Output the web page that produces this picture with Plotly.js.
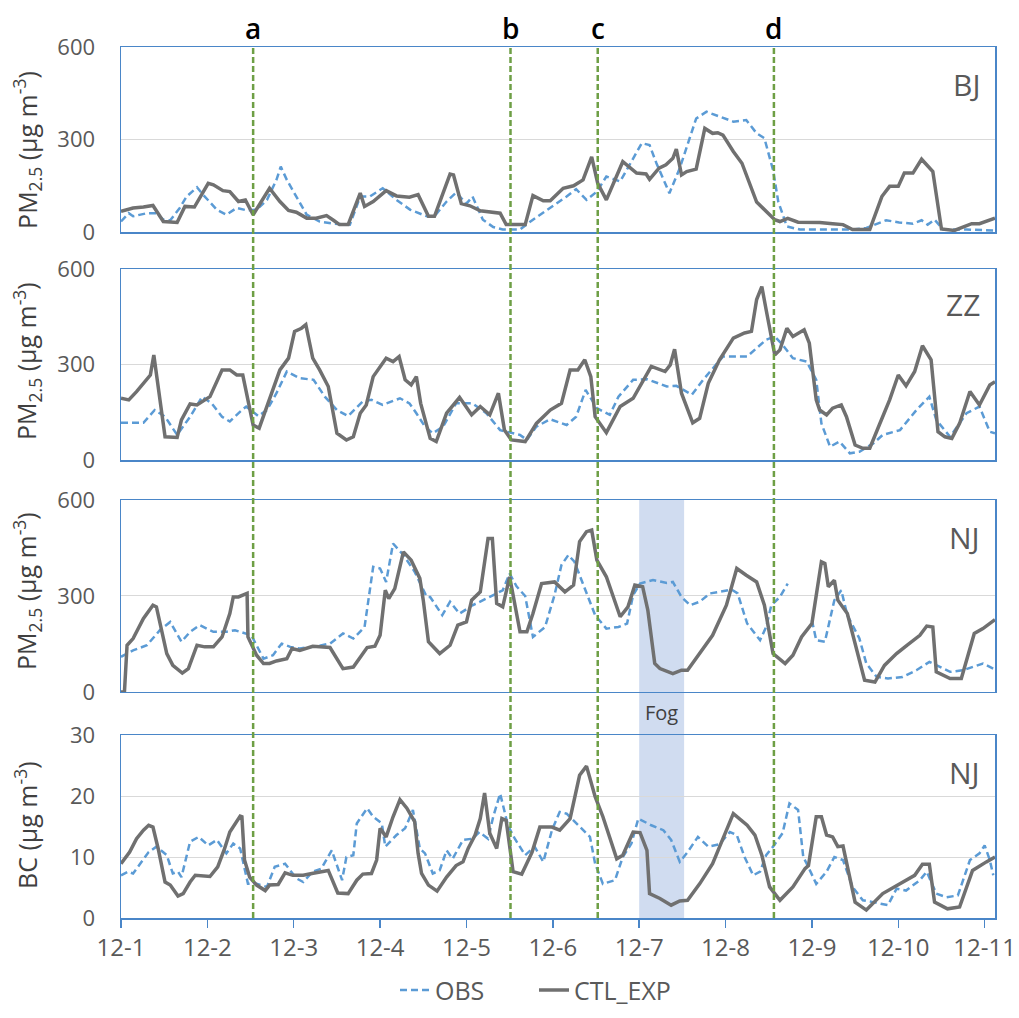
<!DOCTYPE html>
<html>
<head>
<meta charset="utf-8">
<script src="https://cdn.plot.ly/plotly-3.0.1.min.js"></script>
<style>html,body{margin:0;padding:0;background:#fff;}#chart{width:1019px;height:1018px;}</style>
</head>
<body>
<div id="chart"></div>
<script>
// ---------- DATA (x = days since 12-1 00:00) ----------
const tickDays = [0,1,2,3,4,5,6,7,8,9,10];
const tickLabels = ["12-1","12-2","12-3","12-4","12-5","12-6","12-7","12-8","12-9","12-10","12-11"];
const eventDays = [1.53, 4.51, 5.52, 7.56];
const eventLabels = ["a","b","c","d"];
const fogStart = 6.0, fogEnd = 6.52;
const panelNames = ["BJ","ZZ","NJ","NJ"];

const bjCtlX = [0,0.14,0.26,0.37,0.49,0.65,0.74,0.85,1.01,1.07,1.18,1.26,1.36,1.44,1.53,1.72,1.84,1.94,2.03,2.15,2.26,2.38,2.46,2.53,2.63,2.77,2.82,2.92,3.07,3.19,3.34,3.44,3.56,3.63,3.81,3.85,3.94,4.04,4.16,4.27,4.39,4.46,4.68,4.77,4.89,4.97,5.12,5.24,5.35,5.45,5.52,5.62,5.81,5.97,6.08,6.12,6.23,6.31,6.39,6.43,6.49,6.55,6.66,6.76,6.85,6.91,6.97,7.09,7.19,7.36,7.47,7.57,7.63,7.72,7.84,8.09,8.24,8.36,8.47,8.67,8.81,8.9,9.0,9.07,9.17,9.27,9.4,9.5,9.65,9.85,9.94,10.12];
const bjCtlY = [67,78,81,86,34,31,83,81,158,153,134,131,99,104,56,142,99,70,64,45,45,53,38,24,24,126,83,99,134,117,113,121,51,51,188,185,92,85,69,65,61,24,24,118,101,101,142,150,169,244,158,104,228,191,188,171,207,218,239,269,185,196,204,336,320,322,314,261,223,97,67,40,34,44,32,31,27,24,8,8,115,148,148,191,191,236,196,10,5,27,27,45];
const bjObsX = [0,0.09,0.14,0.3,0.41,0.49,0.57,0.68,0.76,0.88,0.95,1.11,1.22,1.34,1.46,1.57,1.69,1.8,1.85,1.92,2.03,2.15,2.3,2.46,2.65,2.77,2.88,3.03,3.19,3.35,3.54,3.63,3.77,3.88,4.0,4.07,4.19,4.31,4.42,4.62,4.77,4.97,5.16,5.27,5.39,5.51,5.62,5.78,5.93,6.03,6.12,6.2,6.35,6.47,6.59,6.66,6.78,6.93,7.09,7.24,7.36,7.45,7.55,7.61,7.71,7.86,8.09,8.28,8.47,8.63,8.86,9.01,9.17,9.27,9.34,9.42,9.52,9.79,10.12];
const bjObsY = [34,61,51,61,61,40,38,78,115,145,121,72,56,78,70,72,104,169,212,169,115,56,34,27,24,115,115,142,104,72,51,51,99,128,92,115,40,16,8,8,40,78,115,139,104,131,180,164,236,288,282,223,126,207,309,368,390,374,358,363,320,304,201,99,18,8,8,8,8,13,38,31,27,38,24,40,8,8,5];

const zzCtlX = [0,0.09,0.18,0.3,0.34,0.38,0.45,0.51,0.65,0.7,0.8,0.88,1.03,1.17,1.26,1.34,1.41,1.47,1.53,1.6,1.72,1.84,1.94,2.01,2.09,2.14,2.22,2.3,2.4,2.5,2.61,2.69,2.77,2.84,2.92,3.07,3.15,3.22,3.29,3.36,3.42,3.47,3.58,3.65,3.77,3.92,4.06,4.16,4.27,4.37,4.44,4.52,4.68,4.81,4.97,5.1,5.2,5.29,5.37,5.44,5.49,5.62,5.78,5.93,6.14,6.3,6.36,6.41,6.49,6.62,6.7,6.8,6.93,7.09,7.22,7.3,7.36,7.42,7.47,7.57,7.63,7.71,7.78,7.91,7.97,8.05,8.09,8.17,8.24,8.34,8.4,8.5,8.59,8.67,8.78,8.9,9.0,9.09,9.19,9.28,9.38,9.46,9.54,9.62,9.71,9.83,9.94,10.06,10.12];
const zzCtlY = [194,189,215,252,267,330,189,73,71,126,176,173,199,283,283,267,267,189,110,100,189,283,320,404,414,425,320,283,231,84,63,73,147,173,262,320,309,325,252,236,262,178,68,58,147,197,142,168,142,210,94,63,58,115,157,178,283,283,315,262,136,86,168,194,294,278,299,348,210,117,131,241,315,383,399,404,504,545,472,330,346,414,388,409,367,189,157,142,163,173,136,47,37,37,110,189,267,233,278,359,315,89,73,68,115,215,173,236,246];
const zzObsX = [0,0.26,0.39,0.51,0.65,0.8,0.94,1.05,1.17,1.26,1.38,1.45,1.59,1.69,1.8,1.92,2.07,2.23,2.36,2.5,2.63,2.8,2.9,3.03,3.23,3.34,3.42,3.52,3.61,3.73,3.88,4.07,4.23,4.39,4.62,4.7,4.81,4.97,5.16,5.27,5.38,5.51,5.66,5.76,5.93,6.09,6.32,6.43,6.61,6.74,6.97,7.25,7.47,7.57,7.66,7.78,7.94,8.05,8.11,8.21,8.32,8.44,8.55,8.71,8.82,9.02,9.21,9.36,9.44,9.6,9.79,9.94,10.06,10.12];
const zzObsY = [117,117,157,136,79,136,199,178,136,121,152,168,138,157,210,278,257,252,199,157,138,184,189,173,194,178,147,105,84,105,178,178,147,94,79,63,105,128,110,136,220,163,142,199,252,254,231,233,205,252,325,325,378,388,362,320,309,252,115,42,58,21,26,52,79,94,157,199,126,73,147,168,89,84];

const njCtlX = [0,0.04,0.07,0.14,0.26,0.37,0.41,0.53,0.6,0.71,0.78,0.88,0.97,1.07,1.17,1.26,1.3,1.36,1.46,1.47,1.57,1.65,1.72,1.8,1.92,1.98,2.07,2.22,2.42,2.57,2.69,2.85,2.94,3.0,3.06,3.1,3.17,3.27,3.36,3.46,3.5,3.56,3.69,3.81,3.9,4.0,4.06,4.16,4.25,4.3,4.35,4.42,4.5,4.62,4.7,4.77,4.87,5.02,5.14,5.24,5.31,5.39,5.45,5.51,5.62,5.78,5.87,5.95,6.04,6.1,6.18,6.24,6.39,6.49,6.56,6.7,6.85,7.01,7.13,7.24,7.36,7.45,7.55,7.69,7.78,7.88,8.0,8.11,8.15,8.19,8.26,8.3,8.41,8.61,8.73,8.84,8.98,9.1,9.25,9.33,9.4,9.44,9.6,9.73,9.88,9.98,10.1,10.12];
const njCtlY = [0,0,146,167,230,271,266,120,83,59,73,146,141,141,172,245,297,297,308,172,115,89,89,97,104,136,130,143,139,73,78,139,143,177,318,292,323,438,412,355,287,157,120,146,209,219,287,313,480,480,277,266,360,188,188,245,339,344,313,334,470,501,506,412,360,235,266,334,329,256,89,73,57,68,68,120,177,271,386,365,344,271,120,89,115,172,214,407,402,329,349,287,245,37,31,83,120,146,177,206,203,63,42,42,183,198,224,226];
const njObsX = [0,0.14,0.3,0.45,0.57,0.7,0.8,0.91,1.07,1.22,1.32,1.42,1.51,1.65,1.76,1.86,1.96,2.07,2.22,2.42,2.57,2.69,2.82,2.92,3.0,3.07,3.15,3.27,3.4,3.54,3.58,3.72,3.81,3.92,4.07,4.27,4.42,4.5,4.58,4.68,4.77,4.91,5.02,5.1,5.18,5.25,5.37,5.49,5.62,5.76,5.86,5.93,6.01,6.16,6.32,6.39,6.49,6.59,6.7,6.82,6.93,7.07,7.14,7.25,7.4,7.47,7.53,7.63,7.72,7.85,8.0,8.05,8.15,8.26,8.34,8.41,8.55,8.63,8.75,8.88,9.05,9.21,9.36,9.48,9.6,9.75,9.91,9.98,10.1,10.12];
const njObsY = [110,130,146,193,219,157,188,209,188,188,193,185,177,104,115,151,141,136,141,151,183,167,203,391,386,344,464,428,376,297,297,240,282,245,271,297,318,370,330,300,172,203,303,397,428,407,323,240,198,203,214,303,339,350,341,344,297,271,282,308,313,320,308,214,162,203,271,297,339,null,224,162,157,287,318,240,167,89,47,42,47,68,94,78,63,68,83,89,73,73];

const bcCtlX = [0,0.1,0.18,0.26,0.32,0.37,0.43,0.51,0.57,0.66,0.72,0.8,0.86,1.03,1.12,1.2,1.26,1.34,1.38,1.4,1.43,1.49,1.57,1.67,1.72,1.82,1.9,1.99,2.11,2.21,2.36,2.4,2.51,2.63,2.73,2.8,2.9,2.96,3.0,3.07,3.15,3.23,3.31,3.4,3.44,3.48,3.56,3.66,3.77,3.88,3.96,4.02,4.1,4.16,4.21,4.27,4.35,4.41,4.46,4.54,4.64,4.76,4.85,4.99,5.08,5.2,5.31,5.39,5.49,5.58,5.74,5.81,5.93,6.01,6.09,6.12,6.24,6.37,6.47,6.56,6.7,6.85,6.97,7.09,7.25,7.34,7.42,7.51,7.63,7.78,7.92,7.96,8.05,8.11,8.17,8.24,8.3,8.36,8.5,8.63,8.82,9.02,9.19,9.28,9.36,9.42,9.57,9.71,9.86,10.02,10.1,10.12];
const bcCtlY = [8.9,10.8,13.0,14.4,15.2,14.9,11.4,5.9,5.4,3.6,4.0,5.9,7.0,6.8,8.4,11.4,14.1,15.8,16.7,16.6,9.5,6.7,5.4,4.5,5.4,5.5,7.4,7.0,7.0,7.3,7.6,7.8,4.1,4.0,6.2,7.2,7.3,9.5,14.7,13.3,16.6,19.4,18.0,15.8,10.6,7.3,5.4,4.4,6.7,8.6,9.2,11.4,13.6,16.3,20.5,13.9,11.4,16.3,16.0,7.6,7.2,10.8,14.9,14.9,14.4,16.3,23.4,24.9,19.9,16.6,9.7,10.3,14.1,14.0,11.1,4.0,3.2,2.1,2.8,2.9,5.6,8.9,13.0,17.1,15.2,13.6,10.3,5.1,2.9,5.1,8.1,8.6,16.6,16.6,13.6,13.3,11.7,11.8,2.6,1.3,4.0,5.6,7.0,8.8,8.8,2.6,1.5,1.8,7.8,9.2,9.9,10.0];
const bcObsX = [0,0.08,0.14,0.22,0.32,0.41,0.53,0.6,0.66,0.7,0.8,0.9,1.01,1.11,1.22,1.3,1.38,1.47,1.57,1.69,1.78,1.9,2.03,2.11,2.22,2.32,2.44,2.56,2.61,2.69,2.73,2.85,2.92,3.02,3.06,3.19,3.29,3.38,3.46,3.52,3.61,3.69,3.77,3.84,3.96,4.07,4.15,4.25,4.31,4.39,4.48,4.56,4.68,4.79,4.89,4.99,5.08,5.16,5.31,5.43,5.49,5.58,5.72,5.81,5.91,5.99,6.14,6.28,6.37,6.47,6.56,6.68,6.8,6.93,7.05,7.13,7.22,7.32,7.4,7.47,7.55,7.66,7.74,7.84,7.9,7.94,8.05,8.17,8.26,8.36,8.47,8.59,8.71,8.88,8.98,9.09,9.25,9.33,9.44,9.56,9.69,9.83,9.94,10.0,10.06,10.1];
const bcObsY = [7.0,7.6,7.3,8.9,10.8,11.7,10.3,7.3,7.6,6.7,12.5,13.3,11.9,12.8,10.6,12.2,11.4,5.6,5.6,5.1,8.4,8.9,6.5,5.9,7.6,8.1,11.1,6.2,10.0,10.3,15.5,18.0,16.6,15.5,11.7,13.6,14.7,17.7,11.4,10.6,7.3,7.8,11.1,9.7,12.8,13.0,14.1,13.0,16.6,20.4,15.2,13.0,10.3,11.7,9.2,14.4,17.4,17.1,14.9,13.3,8.9,5.6,6.2,10.0,12.2,16.3,15.2,14.4,12.8,9.2,10.8,13.3,11.7,12.1,14.1,13.6,10.0,7.0,7.6,10.3,11.7,13.9,18.8,17.7,10.0,8.9,5.6,7.6,10.0,9.5,5.1,2.9,2.6,2.1,4.8,4.5,6.2,7.6,4.0,3.4,3.7,9.5,10.6,11.9,9.5,7.0];

// ---------- STYLE ----------
const FRAME = '#4a86c8';
const GRID = '#d9d9d9';
const TXT = '#595959';
const OBS_STYLE = {color:'#5b9bd5', width:2.5, dash:'7px,4px'};
const CTL_STYLE = {color:'#707070', width:3.5};
const FONT = 'Open Sans, Noto Sans, sans-serif';

const panels = [
  {obsX:bjObsX, obsY:bjObsY, ctlX:bjCtlX, ctlY:bjCtlY},
  {obsX:zzObsX, obsY:zzObsY, ctlX:zzCtlX, ctlY:zzCtlY},
  {obsX:njObsX, obsY:njObsY, ctlX:njCtlX, ctlY:njCtlY},
  {obsX:bcObsX, obsY:bcObsY, ctlX:bcCtlX, ctlY:bcCtlY}
];
const domains = [[0.7876,1.0],[0.5258,0.7451],[0.2595,0.4799],[0,0.2101]];
const yRanges = [[0,600],[0,600],[0,600],[0,30]];
const yTicks = [[0,300,600],[0,300,600],[0,300,600],[0,10,20,30]];

const traces = [];
panels.forEach((p,i)=>{
  const sfx = i===0 ? '' : String(i+1);
  traces.push({x:p.obsX, y:p.obsY, type:'scatter', mode:'lines', name:'OBS', line:OBS_STYLE,
    xaxis:'x'+sfx, yaxis:'y'+sfx, showlegend:i===0, connectgaps:false, hoverinfo:'skip'});
  traces.push({x:p.ctlX, y:p.ctlY, type:'scatter', mode:'lines', name:'CTL_EXP', line:CTL_STYLE,
    xaxis:'x'+sfx, yaxis:'y'+sfx, showlegend:i===0, hoverinfo:'skip'});
});

const layout = {
  width:1019, height:1018,
  margin:{l:121, r:24, t:47, b:100, autoexpand:false},
  paper_bgcolor:'#fff', plot_bgcolor:'rgba(0,0,0,0)',
  font:{family:FONT, size:22, color:TXT},
  showlegend:true,
  legend:{orientation:'h', x:0.3135, xanchor:'left', y:-0.083, yanchor:'middle',
    entrywidth:94, entrywidthmode:'pixels',
    font:{family:FONT, size:25, color:TXT}, tracegroupgap:0, bgcolor:'rgba(0,0,0,0)'},
  shapes:[], annotations:[]
};

for (let i=0;i<4;i++){
  const sfx = i===0 ? '' : String(i+1);
  const bottom = (i===3);
  layout['xaxis'+sfx] = {
    domain:[0,1], anchor:'y'+sfx, range:[0,10.12], showgrid:false, zeroline:false,
    showline:true, mirror:true, linecolor:FRAME, linewidth:1.5, automargin:false,
    tickmode:'array', tickvals:tickDays, ticktext:tickLabels,
    showticklabels:bottom, ticks: bottom ? 'outside' : '', ticklen:8, tickwidth:1.5, tickcolor:FRAME,
    tickfont:{family:FONT, size:24, color:TXT}, fixedrange:true
  };
  if (i>0) layout['xaxis'+sfx].matches = 'x';
  layout['yaxis'+sfx] = {
    domain:domains[i], anchor:'x'+sfx, range:yRanges[i], tickmode:'array', tickvals:yTicks[i],
    showgrid:true, gridcolor:GRID, gridwidth:1, zeroline:false, automargin:false,
    showline:true, mirror:true, linecolor:FRAME, linewidth:1.5,
    ticks:'outside', ticklen:20, tickcolor:'rgba(0,0,0,0)',
    tickfont:{family:FONT, size:22, color:TXT}, fixedrange:true
  };
}

// Fog band
layout.shapes.push({type:'rect', xref:'x', yref:'paper', x0:fogStart, x1:fogEnd, y0:0, y1:domains[2][1],
  fillcolor:'rgba(68,114,196,0.25)', line:{width:0}, layer:'below'});
layout.annotations.push({xref:'x', yref:'paper', x:(fogStart+fogEnd)/2, y:0.2365, text:'Fog', showarrow:false,
  font:{family:FONT, size:20, color:'#404040'}, xanchor:'center', yanchor:'middle'});

// Event lines
eventDays.forEach((d,k)=>{
  layout.shapes.push({type:'line', xref:'x', yref:'paper', x0:d, x1:d, y0:0, y1:1,
    line:{color:'#6e9f45', width:2.5, dash:'6px,3px'}, layer:'above'});
  layout.annotations.push({xref:'x', yref:'paper', x:d, y:1.0218, text:eventLabels[k], showarrow:false,
    font:{family:FONT, size:28, color:'#000', weight:600}, xanchor:'center', yanchor:'middle'});
});

// Panel labels
const labelY = [0.9564, 0.7038, 0.4374, 0.1676];
panelNames.forEach((n,i)=>{
  layout.annotations.push({xref:'paper', yref:'paper', x:0.985, y:labelY[i], text:n, showarrow:false,
    font:{family:FONT, size:30, color:TXT}, xanchor:'right', yanchor:'middle'});
});

// Y axis titles
const titleY = [0.8818, 0.6395, 0.3754, 0.1068];
const titles = ['PM<sub>2.5</sub> (μg m<sup>-3</sup>)','PM<sub>2.5</sub> (μg m<sup>-3</sup>)','PM<sub>2.5</sub> (μg m<sup>-3</sup>)','BC (μg m<sup>-3</sup>)'];
titles.forEach((t,i)=>{
  layout.annotations.push({xref:'paper', yref:'paper', x:-0.1076, y:titleY[i], text:t, showarrow:false,
    textangle:-90, font:{family:FONT, size:25, color:'#404040'}, xanchor:'center', yanchor:'middle'});
});

Plotly.newPlot('chart', traces, layout, {staticPlot:true, displayModeBar:false});
</script>
</body>
</html>
